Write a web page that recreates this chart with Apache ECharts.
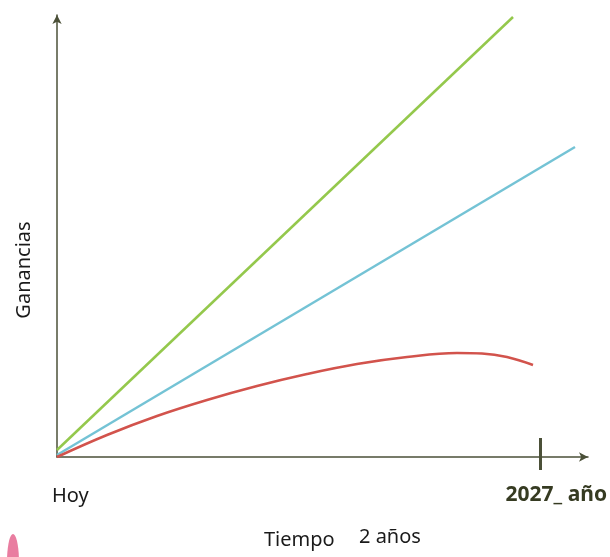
<!DOCTYPE html>
<html>
<head>
<meta charset="utf-8">
<script src="https://cdn.jsdelivr.net/npm/echarts@6/dist/echarts.min.js"></script>
<style>
  html, body { margin: 0; padding: 0; background: #fff; }
  #chart { width: 610px; height: 557px; }
</style>
</head>
<body>
<div id="chart"></div>
<script>
// datos (unidades arbitrarias de tiempo / ganancias)
const greenData = [[0, 7], [456, 440]];
const blueData = [[0, 2], [518, 310]];
const redData = [[0, 0], [50, 22], [100, 41], [150, 57], [200, 71], [250, 83],
  [300, 93], [350, 100], [400, 104], [425, 103.5], [450, 100], [476, 92]];
const tickMark = [483];   // marca de 2027
const xMax = 531;
const yMax = 442;
const axisColor = '#4b5038';
const font = 'Noto Sans';

const chart = echarts.init(document.getElementById('chart'));

const hidden = { show: false };

const option = {
  animation: false,
  grid: { left: 57, right: 22, top: 15, bottom: 100 },
  xAxis: [
    {
      type: 'value',
      min: 0,
      max: xMax,
      axisLine: {
        lineStyle: { color: axisColor, width: 1.5 },
        symbol: ['none', 'arrow'],
        symbolSize: [7, 9]
      },
      // parte de la marca por debajo del eje
      axisTick: {
        show: true,
        customValues: tickMark,
        length: 13,
        lineStyle: { color: axisColor, width: 3 }
      },
      axisLabel: hidden,
      splitLine: hidden
    },
    {
      type: 'value',
      min: 0,
      max: xMax,
      position: 'bottom',
      axisLine: hidden,
      // parte de la marca por encima del eje
      axisTick: {
        show: true,
        inside: true,
        customValues: tickMark,
        length: 19,
        lineStyle: { color: axisColor, width: 3 }
      },
      axisLabel: hidden,
      splitLine: hidden
    }
  ],
  yAxis: {
    type: 'value',
    min: 0,
    max: yMax,
    axisLine: {
      show: true,
      lineStyle: { color: axisColor, width: 1.5 },
      symbol: ['none', 'arrow'],
      symbolSize: [7, 9]
    },
    axisTick: hidden,
    axisLabel: hidden,
    splitLine: hidden
  },
  series: [
    {
      name: 'verde',
      type: 'line',
      data: greenData,
      symbol: 'none',
      lineStyle: { color: '#94c84c', width: 2.5 }
    },
    {
      name: 'azul',
      type: 'line',
      data: blueData,
      symbol: 'none',
      lineStyle: { color: '#74c3d5', width: 2.5 }
    },
    {
      name: 'rojo',
      type: 'line',
      data: redData,
      symbol: 'none',
      smooth: 0.4,
      lineStyle: { color: '#d2534c', width: 2.5 }
    }
  ],
  graphic: [
    {
      type: 'text', left: 52, top: 486,
      style: { text: 'Hoy', font: '20px "' + font + '"', fill: '#1a1a1a' }
    },
    {
      type: 'text', right: 3, top: 485,
      style: { text: '2027_ año', font: 'bold 21px "' + font + '"', fill: '#363b22' }
    },
    {
      type: 'text', left: 264, top: 530,
      style: { text: 'Tiempo', font: '20px "' + font + '"', fill: '#1a1a1a' }
    },
    {
      type: 'text', left: 359, top: 527,
      style: { text: '2 años', font: '20px "' + font + '"', fill: '#1a1a1a' }
    },
    {
      type: 'text', x: 24, y: 270, rotation: Math.PI / 2,
      style: {
        text: 'Ganancias', font: '20px "' + font + '"', fill: '#1a1a1a',
        align: 'center', verticalAlign: 'middle'
      }
    },
    {
      // recorte de imagen rosa en la esquina
      type: 'ellipse', shape: { cx: 13, cy: 562, rx: 6, ry: 28 },
      style: { fill: '#e97da0' }, silent: true
    }
  ]
};

chart.setOption(option);
</script>
</body>
</html>
